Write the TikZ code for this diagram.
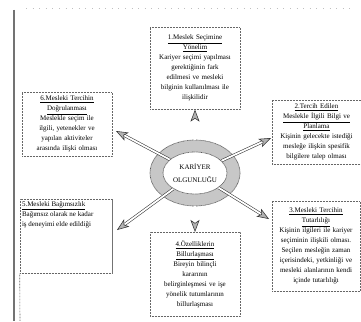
\documentclass[tikz,border=0pt]{standalone}
\usepackage{fontspec}
\setmainfont{Liberation Serif}
\usetikzlibrary{arrows.meta,shapes.geometric}
\begin{document}
\begin{tikzpicture}[x=1pt,y=-1pt,
  box/.style={draw=black!60, line width=0.6pt, dash pattern=on 0.7pt off 0.8pt,
    font=\fontsize{7}{10}\selectfont, align=center, inner sep=2pt, anchor=north},
  darr/.style={draw=black!80, line width=0.55pt, double=white, double distance=1.8pt,
    -{Stealth[length=12pt,width=9pt,inset=3pt,open,fill=black!30]}},
  ring/.style={draw=black!65, line width=0.7pt, dash pattern=on 0.7pt off 0.6pt}]
\useasboundingbox (0,0) rectangle (361,321);
\fill[white] (0,0) rectangle (361,321);
% scan edge
\draw[black!55, line width=1.6pt] (14,10) -- (14,321);
\draw[black!25, line width=0.6pt, dash pattern=on 0.6pt off 6pt] (26,8) -- (350,8);

% ring
\fill[black!22, even odd rule] (195,173) ellipse [x radius=45pt, y radius=33pt]
  (195,173) ellipse [x radius=32pt, y radius=21pt];
\node[ellipse, ring, minimum width=90pt, minimum height=66pt, inner sep=0pt] (co) at (195,173) {};
\node[ellipse, ring, minimum width=64pt, minimum height=42pt, inner sep=0pt,
  font=\fontsize{7}{13}\selectfont, align=center] (c) at (195,173) {KARİYER\\OLGUNLUĞU};

% boxes
\node[box, text width=86pt, minimum height=82pt] (b1) at (195,27)
 {\underline{1.Meslek Seçimine}\\\underline{Yönelim}\\Kariyer seçimi yapılması\\gerektiğinin fark\\edilmesi ve mesleki\\bilginin kullanılması ile\\ilişkilidir};
\node[box, text width=86pt, minimum height=64pt] (b6) at (67,92)
 {\underline{6.Mesleki Tercihin}\\\underline{Doğrulanması}\\Meslekle seçim ile\\ilgili, yetenekler ve\\yapılan aktiviteler\\arasında ilişki olması};
\node[box, text width=85pt, minimum height=64pt] (b2) at (316.5,100)
 {\underline{2.Tercih Edilen}\\\underline{Meslekle İlgili Bilgi ve}\\\underline{Planlama}\\Kişinin gelecekte istediği\\mesleğe ilişkin spesifik\\bilgilere talep olması};
\node[box, text width=84pt, minimum height=90pt] (b3) at (316,201)
 {\underline{3.Mesleki Tercihin}\\\underline{Tutarlılığı}\\Kişinin ilgileri ile kariyer\\seçiminin ilişkili olması.\\Seçilen mesleğin zaman\\içerisindeki, yetkinliği ve\\mesleki alanlarının kendi\\içinde tutarlılığı};
\node[box, text width=86pt, minimum height=84pt] (b4) at (195,232)
 {\underline{4.Özelliklerin}\\\underline{Billurlaşması}\\Bireyin bilinçli\\kararının\\belirginleşmesi ve işe\\yönelik tutumlarının\\billurlaşması};
\node[box, inner sep=2pt, align=left] (b5) at (66,199)
 {\parbox[c][70pt][t]{88pt}{\raggedright\underline{5.Mesleki Bağımsızlık}\\Bağımsız olarak ne kadar\\iş deneyimi elde edildiği}};
\draw[black!55, line width=1pt] (b5.north east) -- (b5.south east);
\draw[black!60, line width=0.6pt, dash pattern=on 0.7pt off 0.8pt] (b5.south west) -- (20,321);

% arrow targets
\coordinate (t6) at (116,131);
\coordinate (t2) at (271,138);
\coordinate (t3) at (269,219);
\coordinate (t5) at (117,230);

% arrows
\draw[darr] (co.north) -- (b1.south);
\draw[darr] (co.south) -- (b4.north);
\draw[darr] (c) -- (t6);
\draw[darr] (c) -- (t2);
\draw[darr] (c) -- (t3);
\draw[darr] (c) -- (t5);
\end{tikzpicture}
\end{document}
